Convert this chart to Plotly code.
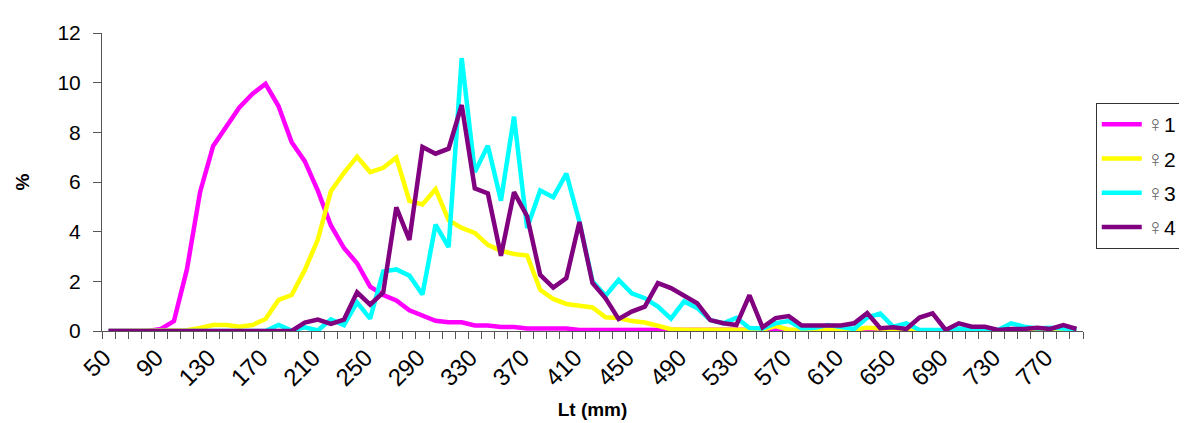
import plotly.graph_objects as go

lengths = [50, 60, 70, 80, 90, 100, 110, 120, 130, 140, 150, 160, 170, 180, 190,
           200, 210, 220, 230, 240, 250, 260, 270, 280, 290, 300, 310, 320, 330, 340,
           350, 360, 370, 380, 390, 400, 410, 420, 430, 440, 450, 460, 470, 480, 490,
           500, 510, 520, 530, 540, 550, 560, 570, 580, 590, 600, 610, 620, 630, 640,
           650, 660, 670, 680, 690, 700, 710, 720, 730, 740, 750, 760, 770, 780, 790]

tick_labels = ["50", "90", "130", "170", "210", "250", "290", "330", "370", "410",
               "450", "490", "530", "570", "610", "650", "690", "730", "770"]

female1 = [0, 0, 0, 0, 0.08, 0.4, 2.5, 5.6, 7.45, 8.2, 9.0, 9.55, 9.95, 9.05, 7.6,
           6.84, 5.65, 4.25, 3.34, 2.73, 1.79, 1.45, 1.23, 0.83, 0.63, 0.41, 0.35, 0.35, 0.22, 0.22,
           0.16, 0.16, 0.1, 0.1, 0.1, 0.1, 0.04, 0.04, 0.03, 0.03, 0.03, 0.03, 0.03, 0.03, 0.02,
           0.02, 0.02, 0.02, 0.02, 0.02, 0.05, 0.05, 0, 0, 0, 0, 0, 0, 0.03, 0,
           0, 0, 0, 0, 0, 0, 0, 0, 0, 0, 0, 0, 0, 0, 0]

female2 = [0, 0, 0, 0, 0, 0, 0.03, 0.12, 0.24, 0.24, 0.17, 0.24, 0.48, 1.25, 1.45,
           2.45, 3.68, 5.63, 6.37, 7.02, 6.4, 6.57, 6.98, 5.24, 5.1, 5.71, 4.46, 4.15, 3.95, 3.47,
           3.23, 3.1, 3.04, 1.66, 1.29, 1.09, 1.02, 0.95, 0.55, 0.52, 0.4, 0.34, 0.21, 0.07, 0.05,
           0.05, 0.05, 0.05, 0.05, 0.05, 0.05, 0.2, 0.05, 0.05, 0.05, 0.05, 0.05, 0.05, 0.13, 0.1,
           0.02, 0.02, 0.02, 0.02, 0.02, 0.02, 0.02, 0.02, 0.02, 0.02, 0.02, 0.02, 0.02, 0.02, 0.02]

female3 = [0, 0, 0, 0, 0, 0, 0, 0, 0, 0, 0, 0, 0, 0.24, 0.02,
           0.15, 0.02, 0.47, 0.24, 1.15, 0.5, 2.4, 2.48, 2.23, 1.47, 4.28, 3.38, 10.99, 6.4, 7.46,
           5.25, 8.63, 4.15, 5.66, 5.39, 6.34, 4.4, 2.0, 1.42, 2.06, 1.52, 1.32, 0.98, 0.5, 1.19,
           0.93, 0.44, 0.31, 0.53, 0.12, 0.1, 0.31, 0.4, 0.1, 0.13, 0.24, 0.17, 0.08, 0.54, 0.7,
           0.17, 0.31, 0.04, 0.04, 0.04, 0.1, 0.04, 0.04, 0.04, 0.31, 0.17, 0.1, 0.13, 0.1, 0.04]

female4 = [0, 0, 0, 0, 0, 0, 0, 0, 0, 0, 0, 0, 0, 0, 0,
           0.34, 0.46, 0.29, 0.46, 1.56, 1.06, 1.55, 4.98, 3.67, 7.41, 7.14, 7.34, 9.1, 5.74, 5.54,
           3.03, 5.59, 4.62, 2.26, 1.75, 2.13, 4.39, 1.93, 1.32, 0.48, 0.78, 0.98, 1.93, 1.73, 1.45,
           1.12, 0.44, 0.31, 0.24, 1.44, 0.15, 0.52, 0.6, 0.22, 0.22, 0.22, 0.22, 0.31, 0.72, 0.11,
           0.15, 0.08, 0.54, 0.71, 0.04, 0.31, 0.17, 0.17, 0.04, 0.08, 0.08, 0.13, 0.08, 0.24, 0.08]

series_names = ["1", "2", "3", "4"]
series_values = [female1, female2, female3, female4]
series_colors = ["#FF00FF", "#FFFF00", "#00FFFF", "#800080"]

# labels sit left of their category centre, as in the original
tick_vals = [int(t) - 3.5 for t in tick_labels]

fig = go.Figure()
for name, vals, col in zip(series_names, series_values, series_colors):
    fig.add_trace(go.Scatter(
        x=lengths, y=vals, mode="lines",
        name="<span style='color:#666666;font-size:23px'>♀</span>" + name,
        line=dict(color=col, width=4.5), legendgroup=name,
    ))

font_family = "Liberation Sans, Arial, sans-serif"

fig.update_layout(
    width=1187, height=423,
    margin=dict(l=94, r=112, t=25, b=100, autoexpand=False),
    paper_bgcolor="white", plot_bgcolor="white",
    font=dict(family=font_family, color="black", size=20),
    showlegend=True,
    legend=dict(
        x=1.013, y=0.765, xanchor="left", yanchor="top",
        bordercolor="#333333", borderwidth=1,
        font=dict(size=21, family=font_family),
        tracegroupgap=4, itemwidth=40,
    ),
    xaxis=dict(
        range=[45, 795], tickmode="array", tickvals=tick_vals, ticktext=tick_labels,
        tickangle=-45, ticks="", showgrid=False, zeroline=False, automargin=False,
        showline=True, linecolor="#555555", linewidth=1,
        minor=dict(ticks="outside", tick0=45, dtick=10, ticklen=7, tickcolor="#555555", showgrid=False),
        tickfont=dict(size=24), ticklabelstandoff=2,
        title=dict(text="<b>Lt (mm)</b>", font=dict(size=19), standoff=12),
    ),
    yaxis=dict(
        range=[0, 12], dtick=2, ticks="outside", ticklen=8, tickcolor="#555555",
        showgrid=False, zeroline=False, showline=True, linecolor="#555555", linewidth=1,
        automargin=False, tickfont=dict(size=21), ticklabelstandoff=8,
        title=dict(text="<b>%</b>", font=dict(size=19), standoff=22),
    ),
)

fig.write_html("out.html")
